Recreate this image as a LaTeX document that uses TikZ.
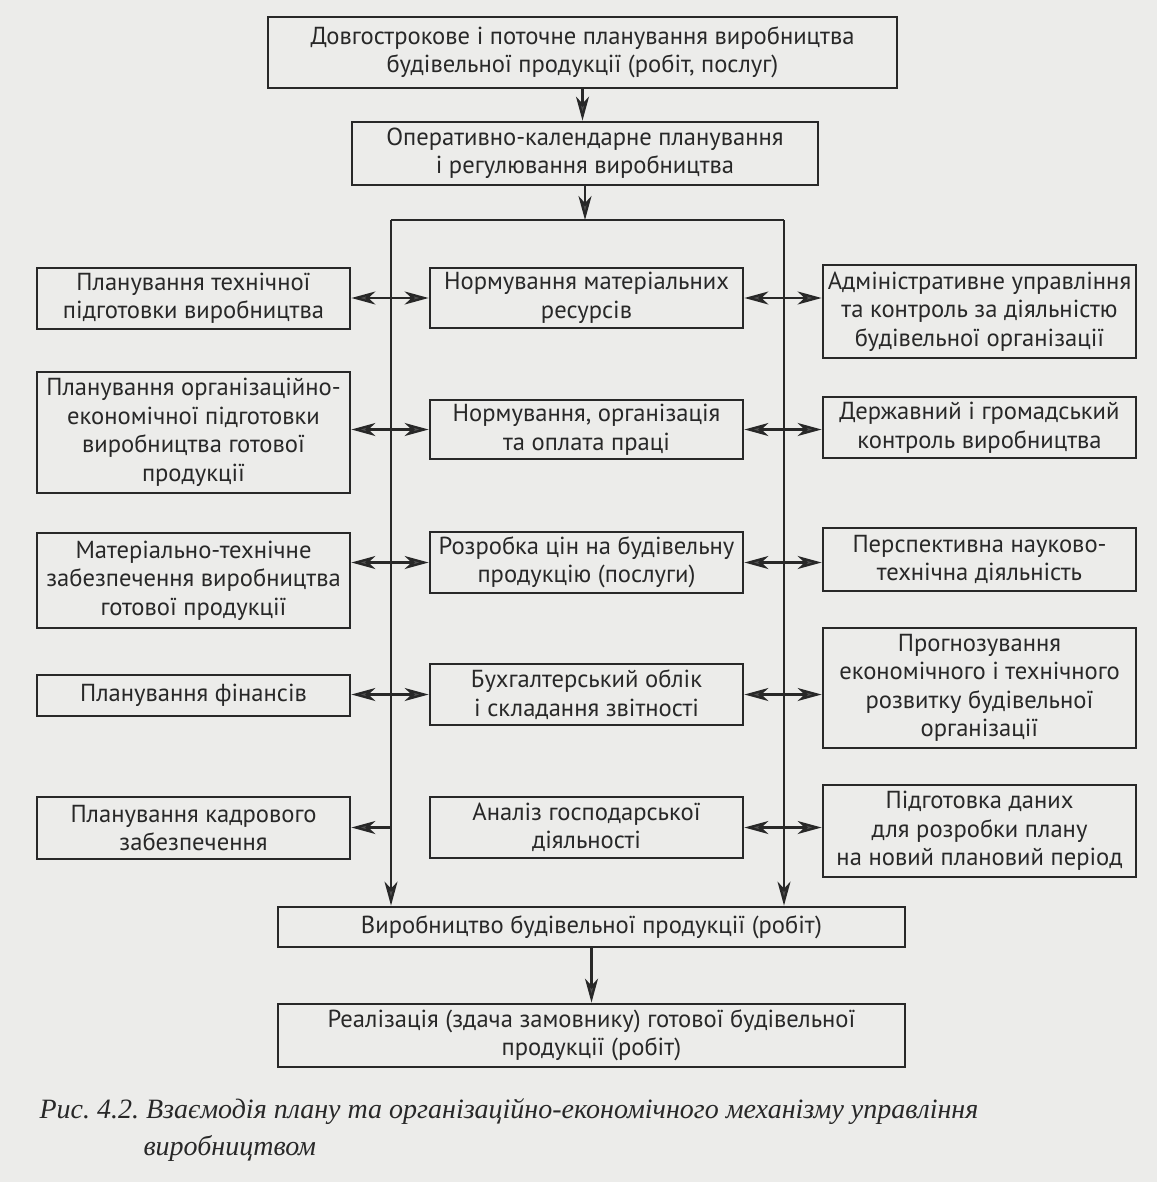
\documentclass[tikz,border=0pt]{standalone}
\usepackage{fontspec}
\setmainfont{PT Sans}
\newfontfamily\captionfont{Liberation Serif}
\usetikzlibrary{arrows.meta, positioning, calc}
\definecolor{paper}{RGB}{236,236,234}
\definecolor{ink}{RGB}{40,40,40}
\definecolor{tip}{RGB}{80,80,80}
\frenchspacing
\tikzset{
  >={Stealth[length=24pt, width=13pt, inset=7pt, fill=tip]}, % arrow heads like the book
  every node/.style={font=\fontsize{24.6}{28.5}\selectfont, text=ink},
  block/.style={draw=ink, line width=2.8pt, align=center, inner sep=0pt,
    minimum width=313pt}, % every box of the scheme
  link/.style={draw=ink, line width=2.3pt}, % connectors
  caption/.style={font=\captionfont\itshape\fontsize{28}{37}\selectfont, anchor=west},
}

\begin{document}
\begin{tikzpicture}[x=1pt, y=-1pt]
  \fill[paper] (0,0) rectangle (1157,1182);
  \useasboundingbox (0,0) rectangle (1157,1182);

  \node[block, minimum width=629pt, minimum height=71pt] (plan) at (582.5,52.5)
    {Довгострокове і поточне планування виробництва\\будівельної продукції (робіт, послуг)};
  \node[block, minimum width=466pt, minimum height=63pt] (oper) at (585,153.5)
    {Оперативно-календарне планування\\і регулювання виробництва};

  % left column
  \node[block, minimum height=61pt] (tech) at (193.5,298.5)
    {Планування технічної\\підготовки виробництва};
  \node[block, minimum height=121pt] (orgec) at (193.5,432.5)
    {Планування організаційно-\\економічної підготовки\\виробництва готової\\продукції};
  \node[block, minimum height=95pt] (supply) at (193.5,580.5)
    {Матеріально-технічне\\забезпечення виробництва\\готової продукції};
  \node[block, minimum height=41pt] (finance) at (193.5,695.5)
    {Планування фінансів};
  \node[block, minimum height=62pt] (staff) at (193.5,828)
    {Планування кадрового\\забезпечення};

  % middle column
  \node[block, minimum height=60pt] (matnorm) at (586.5,298)
    {Нормування матеріальних\\ресурсів};
  \node[block, minimum height=59pt] (labour) at (586.5,429.5)
    {Нормування, організація\\та оплата праці};
  \node[block, minimum height=61pt] (prices) at (586.5,562.5)
    {Розробка цін на будівельну\\продукцію (послуги)};
  \node[block, minimum height=61pt] (account) at (586.5,694.5)
    {Бухгалтерський облік\\і складання звітності};
  \node[block, minimum height=61pt] (analysis) at (586.5,827.5)
    {Аналіз господарської\\діяльності};

  % right column
  \node[block, minimum height=93pt] (admin) at (979.5,311.5)
    {Адміністративне управління\\та контроль за діяльністю\\будівельної організації};
  \node[block, minimum height=61pt] (control) at (979.5,427.5)
    {Державний і громадський\\контроль виробництва};
  \node[block, minimum height=63pt] (science) at (979.5,559.5)
    {Перспективна науково-\\технічна діяльність};
  \node[block, minimum height=120pt] (forecast) at (979.5,688)
    {Прогнозування\\економічного і технічного\\розвитку будівельної\\організації};
  \node[block, minimum height=92pt] (newplan) at (979.5,831)
    {Підготовка даних\\для розробки плану\\на новий плановий період};

  % bottom
  \node[block, minimum width=627pt, minimum height=40pt] (output) at (591.5,927)
    {Виробництво будівельної продукції (робіт)};
  \node[block, minimum width=627pt, minimum height=63pt] (sale) at (591.5,1035.5)
    {Реалізація (здача замовнику) готової будівельної\\продукції (робіт)};

  \node[caption] (cap) at (36,1112)
    {Рис. 4.2. Взаємодія плану та організаційно-економічного механізму управління};
  \node[caption] (cap2) at (140,1148) {виробництвом};

  % frame round the middle column
  \coordinate (busL) at (391,220);
  \coordinate (busR) at (784,220);

  \draw[link]
    (plan.south) edge[->] (plan.south |- oper.north)
    (oper.south) edge[->] (oper.south |- busL)
    (busL |- output.north) edge[<-] (busL)
    (busR |- output.north) edge[<-] (busR)
    (busL) -- (busR)

    (tech.east |- matnorm.west) edge[<->] (matnorm.west)
    (orgec.east |- labour.west) edge[<->] (labour.west)
    (supply.east |- prices.west) edge[<->] (prices.west)
    (finance.east |- account.west) edge[<->] (account.west)
    (busL |- analysis.west) edge[->] (staff.east |- analysis.west)

    (matnorm.east) edge[<->] (matnorm.east -| admin.west)
    (labour.east) edge[<->] (labour.east -| control.west)
    (prices.east) edge[<->] (prices.east -| science.west)
    (account.east) edge[<->] (account.east -| forecast.west)
    (analysis.east) edge[<->] (analysis.east -| newplan.west)

    (output.south) edge[->] (sale.north)
    ;
\end{tikzpicture}
\end{document}
